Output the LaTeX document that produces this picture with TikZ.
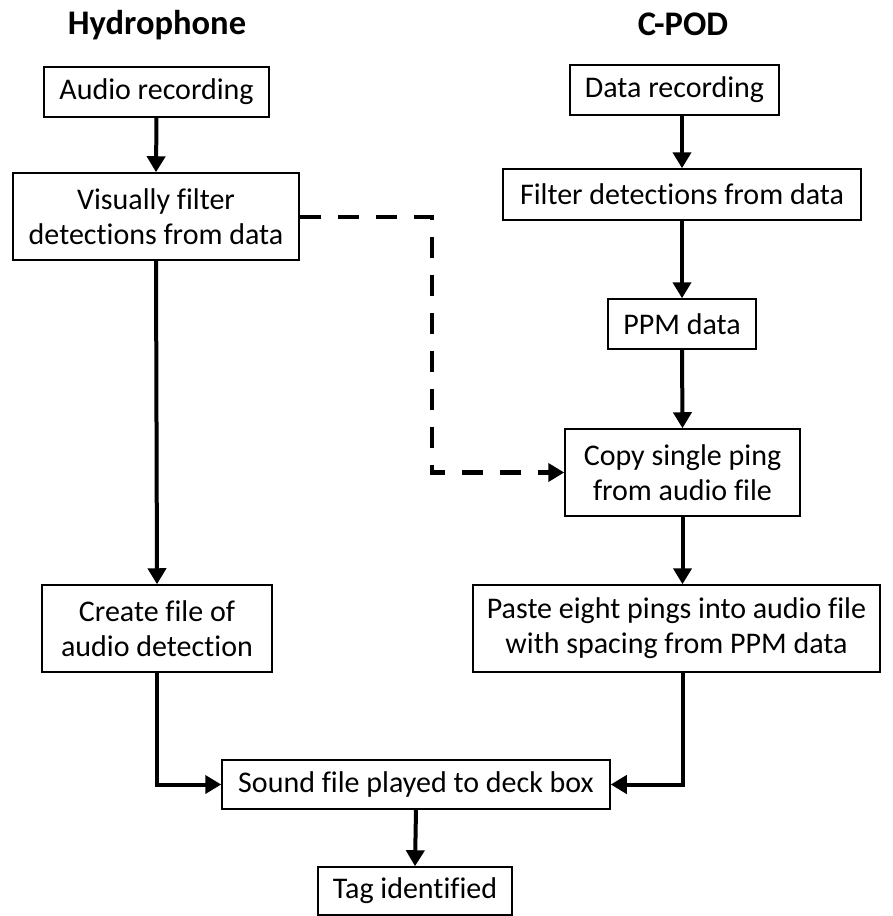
\documentclass[tikz,border=0pt]{standalone}
\usepackage{fontspec}
\setmainfont[Ligatures=NoCommon]{Carlito}
\usetikzlibrary{arrows.meta,calc}
\begin{document}
\begin{tikzpicture}[x=1pt,y=-1pt,
  every node/.style={font=\fontsize{30}{35}\selectfont},
  box/.style={draw=black,line width=1.5pt,inner sep=0pt,align=center,fill=white},
  title/.style={font=\fontsize{34.5}{40}\selectfont\bfseries},
  arr/.style={line width=4pt,-{Triangle[length=16pt,width=18pt]}},
  darr/.style={line width=4.5pt,dash pattern=on 21pt off 17pt,-{Triangle[length=16pt,width=18pt]}}]
\useasboundingbox (0,0) rectangle (893,916);
\node[title] (h) at (157,25) {Hydrophone};
\node[title] (c) at (683,24) {C-POD};
\node[box,minimum width=225pt,minimum height=50pt] (audio) at (156.5,92) {Audio recording};
\node[box,minimum width=286pt,minimum height=87pt] (visual) at (156,216.5) {Visually filter\\detections from data};
\node[box,minimum width=230pt,minimum height=87pt] (create) at (157,628.5) {Create file of\\audio detection};
\node[box,minimum width=209pt,minimum height=50pt] (data) at (674.5,90) {Data recording};
\node[box,minimum width=358pt,minimum height=51pt] (filter) at (682,194.5) {Filter detections from data};
\node[box,minimum width=148pt,minimum height=50pt] (ppm) at (682,324) {PPM data};
\node[box,minimum width=235pt,minimum height=87pt] (copy) at (682.5,472.5) {Copy single ping\\from audio file};
\node[box,minimum width=407pt,minimum height=87pt] (paste) at (676.5,628.5) {Paste eight pings into audio file\\with spacing from PPM data};
\node[box,minimum width=388pt,minimum height=49pt] (sound) at (416,784.5) {Sound file played to deck box};
\node[box,minimum width=194pt,minimum height=48pt] (tag) at (415,891) {Tag identified};
\coordinate (d1) at (432,217);
\coordinate (d2) at (432,472.5);
\draw[arr] (audio.south) -- (visual.north);
\draw[arr] (visual.south) -- (create.north);
\draw[arr] (create.south) |- (sound.west);
\draw[arr] (filter.north |- data.south) -- (filter.north);
\draw[arr] (filter.south) -- (ppm.north);
\draw[arr] (ppm.south) -- (copy.north);
\draw[arr] (copy.south) -- (copy.south |- paste.north);
\draw[arr] (copy.south |- paste.south) |- (sound.east);
\draw[arr] (sound.south) -- (tag.north);
\draw[darr] (visual.east |- d1) -- (d1) -- (d2) -- (copy.west);
\end{tikzpicture}
\end{document}
